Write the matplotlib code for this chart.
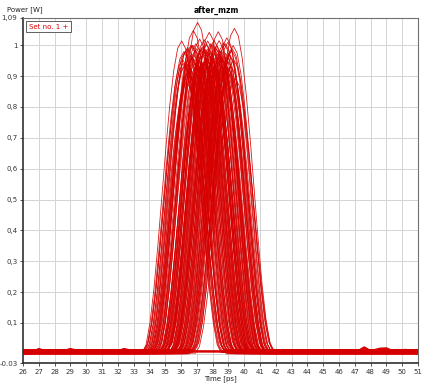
import matplotlib
matplotlib.use("Agg")
import matplotlib.pyplot as plt

# pulse shape (normalised) sampled every 0.25 ps around the pulse centre
shape_offset = [-2.5, -2.25, -2.0, -1.75, -1.5, -1.25, -1.0, -0.75, -0.5, -0.25, 0.0,
                0.25, 0.5, 0.75, 1.0, 1.25, 1.5, 1.75, 2.0, 2.25, 2.5]
shape_value = [0.0, 0.025, 0.096, 0.206, 0.346, 0.5, 0.655, 0.794, 0.905, 0.976, 1.0,
               0.976, 0.905, 0.794, 0.655, 0.5, 0.346, 0.206, 0.096, 0.025, 0.0]

# pulse centres [ps] and peak powers [W]
pulse_center = [
    36.04, 36.78, 37.05, 37.79, 38.36, 39.38, 38.90, 36.18, 36.30, 36.42,
    36.55, 36.63, 36.71, 36.86, 36.94, 37.00, 37.12, 37.18, 37.24, 37.31,
    37.36, 37.42, 37.47, 37.53, 37.58, 37.64, 37.69, 37.74, 37.83, 37.88,
    37.93, 37.98, 38.04, 38.09, 38.14, 38.20, 38.27, 38.33, 38.41, 38.48,
    38.55, 38.62, 38.70, 38.78, 38.85, 38.97, 39.06, 39.15, 39.24, 36.48,
    36.90, 37.21, 37.39, 37.61, 37.86, 38.02, 38.24, 38.52, 38.74, 36.66,
    37.09, 37.28, 37.50, 37.72, 37.96, 38.17, 38.38, 38.60, 38.82, 39.00,
    36.36, 36.82, 37.15, 37.44, 37.67, 37.91, 38.11, 38.45, 38.67, 39.30,
    36.10, 36.24, 36.39, 36.52, 36.60, 36.75, 36.97, 37.26, 37.55, 37.80,
    38.07, 38.30, 38.58, 38.80, 38.93, 39.03, 39.12, 39.20, 39.34, 39.42,
    36.14, 36.27, 36.45, 36.69, 36.88, 37.33, 37.62, 38.00, 38.43, 38.88,
]
pulse_peak = [
    1.010, 1.040, 1.062, 1.040, 1.038, 1.045, 1.024, 0.965, 0.940, 0.985,
    0.912, 0.998, 0.955, 0.930, 1.005, 0.975, 0.948, 1.012, 0.920, 0.990,
    0.962, 0.935, 1.018, 0.905, 0.982, 0.950, 1.002, 0.928, 0.970, 0.995,
    0.915, 0.988, 0.945, 1.008, 0.960, 0.925, 0.992, 0.938, 1.015, 0.952,
    0.978, 0.910, 0.996, 0.958, 0.932, 1.000, 0.968, 0.918, 0.985, 0.902,
    0.972, 0.944, 0.990, 0.926, 0.964, 0.912, 0.984, 0.948, 0.930, 0.958,
    0.896, 0.976, 0.940, 0.962, 0.918, 0.986, 0.946, 0.902, 0.968, 0.936,
    0.880, 0.954, 0.922, 0.978, 0.940, 0.960, 0.908, 0.972, 0.926, 0.985,
    0.950, 0.925, 0.975, 0.900, 0.960, 0.990, 0.935, 0.968, 0.945, 0.980,
    0.920, 0.970, 0.955, 0.995, 0.930, 0.960, 0.905, 0.975, 0.940, 0.890,
    0.935, 0.970, 0.915, 0.985, 0.950, 0.925, 0.990, 0.945, 0.965, 0.910,
]
base_level = [0.004, 0.008, 0.012, 0.002, 0.006, 0.010, 0.000, 0.014]

# small ripples on the baseline
ripple_t = [26, 26.5, 27.0, 27.5, 28.5, 29.0, 29.5, 30.5, 32.0, 32.4, 33.0, 33.5,
            42.5, 44.5, 44.8, 45.2, 47.2, 47.6, 48.0, 48.6, 49.0, 49.4, 50.2, 51]
ripple_v = [0.003, 0.001, 0.015, 0.006, 0.007, 0.015, 0.008, 0.007, 0.008, 0.015, 0.007, 0.008,
            0.007, 0.008, 0.001, 0.008, 0.008, 0.020, 0.008, 0.016, 0.017, 0.008, 0.012, 0.007]

x_ticks = list(range(26, 52))
y_ticks = [-0.03, 0.1, 0.2, 0.3, 0.4, 0.5, 0.6, 0.7, 0.8, 0.9, 1.0, 1.09]
y_labels = ["-0.03", "0,1", "0,2", "0,3", "0,4", "0,5", "0,6", "0,7", "0,8", "0,9", "1", "1,09"]

red = "#d60000"

fig = plt.figure(figsize=(4.32, 3.85), dpi=100)
ax = fig.add_axes([23 / 432, 22 / 385, 395 / 432, 345.5 / 385])

# grid
for xv in x_ticks[1:-1]:
    ax.axvline(xv, color="#d4d4d4", lw=0.7, zorder=0)
for yv in [0.0, 0.1, 0.2, 0.3, 0.4, 0.5, 0.6, 0.7, 0.8, 0.9, 1.0]:
    ax.axhline(yv, color="#d4d4d4", lw=0.7, zorder=0)

# traces
for i, (c, p) in enumerate(zip(pulse_center, pulse_peak)):
    b = base_level[i % len(base_level)]
    xs = [26] + [c + o for o in shape_offset] + [51]
    ys = [b] + [b + p * s for s in shape_value] + [b]
    ax.plot(xs, ys, color=red, lw=0.6, alpha=0.9, zorder=2)

ax.plot(ripple_t, ripple_v, color=red, lw=1.8, zorder=2)

ax.set_xlim(26, 51)
ax.set_ylim(-0.03, 1.09)
ax.set_xticks(x_ticks)
ax.set_xticklabels([str(v) for v in x_ticks])
ax.set_yticks(y_ticks)
ax.set_yticklabels(y_labels)
ax.tick_params(labelsize=5, length=2, width=0.6, colors="#333333", pad=2)

for s in ["top", "right"]:
    ax.spines[s].set_color("#707070")
    ax.spines[s].set_linewidth(0.8)
for s in ["left", "bottom"]:
    ax.spines[s].set_color("#303030")
    ax.spines[s].set_linewidth(1.2)

ax.text(0.015, 0.982, "Set no. 1 +", transform=ax.transAxes, fontsize=5, color=red,
        ha="left", va="top",
        bbox=dict(boxstyle="square,pad=0.35", fc="white", ec="#606060", lw=0.7), zorder=5)

fig.text(216 / 432, 1 - 10 / 385, "after_mzm", fontsize=5.5, fontweight="bold",
         ha="center", va="center")
fig.text(7 / 432, 1 - 10 / 385, "Power [W]", fontsize=5, ha="left", va="center", color="#222222")
fig.text(220 / 432, 1 - 379 / 385, "Time [ps]", fontsize=5, ha="center", va="center", color="#222222")

fig.savefig("out.png", dpi=100)
